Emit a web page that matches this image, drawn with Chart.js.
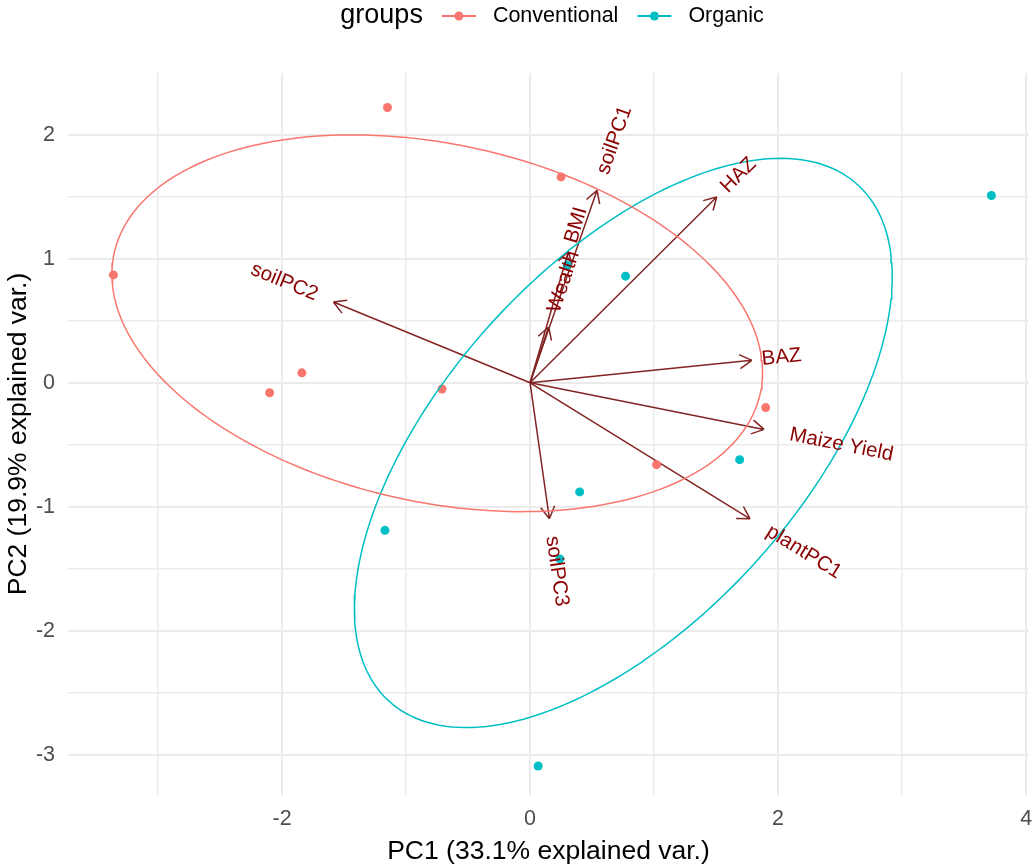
<!DOCTYPE html>
<html>
<head>
<meta charset="utf-8">
<script src="https://cdn.jsdelivr.net/npm/chart.js@4.4.1/dist/chart.umd.min.js"></script>
<style>
  html, body { margin: 0; padding: 0; background: #fff; }
  #wrap { width: 1036px; height: 868px; }
</style>
</head>
<body>
<div id="wrap"><canvas id="grafica1" width="1036" height="868"></canvas></div>
<script>
// groups
const groupNames = ['Conventional', 'Organic'];
const groupColors = ['#F8766D', '#00BFC4'];

// PCA scores per group
const convPC1 = [-1.15, 0.25, -3.36, -1.84, -2.10, -0.71, 1.90, 1.02];
const convPC2 = [2.22, 1.66, 0.87, 0.08, -0.08, -0.05, -0.20, -0.66];
const orgPC1 = [3.72, 0.30, 0.77, 1.69, 0.40, -1.17, 0.24, 0.065];
const orgPC2 = [1.51, 0.95, 0.86, -0.62, -0.88, -1.19, -1.42, -3.09];

// variable loadings (arrows)
const varNames = ['soilPC1', 'BMI', 'Wealth', 'HAZ', 'soilPC2', 'BAZ', 'Maize Yield', 'plantPC1', 'soilPC3'];
const varPC1 = [0.54, 0.31, 0.15, 1.505, -1.586, 1.788, 1.887, 1.774, 0.156];
const varPC2 = [1.552, 1.06, 0.45, 1.498, 0.651, 0.181, -0.376, -1.097, -1.097];

// ticks
const xTicks = [-3, -2, -1, 0, 1, 2, 3, 4];
const yTicks = [-3, -2.5, -2, -1.5, -1, -0.5, 0, 0.5, 1, 1.5, 2];

const FONT = '"Liberation Sans", Arial, sans-serif';
Chart.defaults.font.family = FONT;

function toPoints(xs, ys) {
    return xs.map((x, i) => ({ x: x, y: ys[i] }));
}

// normal data ellipse (68%), same as ggbiplot
function dataEllipse(xs, ys) {
    const n = xs.length;
    const mx = xs.reduce((a, b) => a + b, 0) / n;
    const my = ys.reduce((a, b) => a + b, 0) / n;
    let sxx = 0, syy = 0, sxy = 0;
    for (let i = 0; i < n; i++) {
        sxx += (xs[i] - mx) * (xs[i] - mx);
        syy += (ys[i] - my) * (ys[i] - my);
        sxy += (xs[i] - mx) * (ys[i] - my);
    }
    sxx /= n - 1; syy /= n - 1; sxy /= n - 1;
    const a = Math.sqrt(sxx), b = sxy / a, c = Math.sqrt(syy - b * b);
    const ed = Math.sqrt(-2 * Math.log(1 - 0.68));
    const pts = [];
    for (let i = 0; i <= 200; i++) {
        const t = -Math.PI + 2 * Math.PI * i / 200;
        pts.push({ x: mx + ed * a * Math.cos(t), y: my + ed * (b * Math.cos(t) + c * Math.sin(t)) });
    }
    return pts;
}

const biplotLayer = {
    id: 'biplotLayer',
    afterLayout(chart) {
        // coord_equal: same pixels per unit on x as on y
        const sx = chart.scales.x, sy = chart.scales.y;
        const pxPerUnit = (sy.bottom - sy.top) / (sy.max - sy.min);
        sx.max = sx.min + (sx.right - sx.left) / pxPerUnit;
        sx.configure();
    },
    beforeDatasetsDraw(chart) {
        const ctx = chart.ctx, xs = chart.scales.x, ys = chart.scales.y;
        const x0 = xs.getPixelForValue(0), y0 = ys.getPixelForValue(0);
        ctx.save();
        ctx.strokeStyle = '#832424';
        ctx.lineWidth = 1.5;
        varNames.forEach((name, i) => {
            const x1 = xs.getPixelForValue(varPC1[i]), y1 = ys.getPixelForValue(varPC2[i]);
            const ang = Math.atan2(y1 - y0, x1 - x0);
            ctx.beginPath();
            ctx.moveTo(x0, y0);
            ctx.lineTo(x1, y1);
            [-1, 1].forEach(s => {
                ctx.moveTo(x1, y1);
                ctx.lineTo(x1 - 14 * Math.cos(ang + s * Math.PI / 6), y1 - 14 * Math.sin(ang + s * Math.PI / 6));
            });
            ctx.stroke();
        });
        ctx.restore();
    },
    afterDatasetsDraw(chart) {
        const ctx = chart.ctx, xs = chart.scales.x, ys = chart.scales.y;
        ctx.save();
        ctx.font = '20.5px ' + FONT;
        ctx.fillStyle = '#8B0000';
        ctx.textBaseline = 'middle';
        ctx.textAlign = 'left';
        varNames.forEach((name, i) => {
            const x1 = xs.getPixelForValue(varPC1[i]), y1 = ys.getPixelForValue(varPC2[i]);
            const w = ctx.measureText(name).width;
            const h = (1 - 1.5 * Math.sign(varPC1[i])) / 2;
            ctx.save();
            ctx.translate(x1, y1);
            ctx.rotate(-Math.atan(varPC2[i] / varPC1[i]));
            ctx.fillText(name, -h * w, 0);
            ctx.restore();
        });
        ctx.restore();
    },
    afterDraw(chart) {
        // legend: groups  -o- Conventional  -o- Organic
        const ctx = chart.ctx, area = chart.chartArea;
        const y = 16, keyW = 34;
        ctx.save();
        ctx.textBaseline = 'middle';
        ctx.textAlign = 'left';
        ctx.font = '27px ' + FONT;
        const titleW = ctx.measureText('groups').width;
        ctx.font = '21.5px ' + FONT;
        const labW = groupNames.map(g => ctx.measureText(g).width);
        const total = titleW + 19 + keyW + 17 + labW[0] + 19 + keyW + 17 + labW[1];
        let x = 552 - total / 2;
        ctx.fillStyle = '#000';
        ctx.font = '27px ' + FONT;
        ctx.fillText('groups', x, y);
        x += titleW + 19;
        groupNames.forEach((g, i) => {
            ctx.strokeStyle = groupColors[i];
            ctx.lineWidth = 2;
            ctx.beginPath();
            ctx.moveTo(x, y);
            ctx.lineTo(x + keyW, y);
            ctx.stroke();
            ctx.fillStyle = groupColors[i];
            ctx.beginPath();
            ctx.arc(x + keyW / 2, y, 4.5, 0, Math.PI * 2);
            ctx.fill();
            x += keyW + 17;
            ctx.fillStyle = '#000';
            ctx.font = '21.5px ' + FONT;
            ctx.fillText(g, x, y);
            x += labW[i] + 19;
        });
        ctx.restore();
    }
};

const grafica1 = document.getElementById('grafica1').getContext('2d');
const grafica = new Chart(grafica1, {
    type: 'scatter',
    data: {
        datasets: [
            {
                label: groupNames[0],
                data: toPoints(convPC1, convPC2),
                backgroundColor: groupColors[0],
                pointRadius: 4.5,
                borderWidth: 0,
                order: 2
            },
            {
                label: groupNames[1],
                data: toPoints(orgPC1, orgPC2),
                backgroundColor: groupColors[1],
                pointRadius: 4.5,
                borderWidth: 0,
                order: 2
            },
            {
                label: groupNames[0] + ' ellipse',
                data: dataEllipse(convPC1, convPC2),
                showLine: true,
                fill: false,
                pointRadius: 0,
                borderColor: groupColors[0],
                borderWidth: 1.5,
                order: 1
            },
            {
                label: groupNames[1] + ' ellipse',
                data: dataEllipse(orgPC1, orgPC2),
                showLine: true,
                fill: false,
                pointRadius: 0,
                borderColor: groupColors[1],
                borderWidth: 1.5,
                order: 1
            }
        ]
    },
    options: {
        responsive: false,
        animation: false,
        layout: { padding: { top: 73, right: 0, bottom: 0, left: 0 } },
        plugins: {
            legend: { display: false },
            tooltip: { enabled: false }
        },
        scales: {
            x: {
                type: 'linear',
                min: -3.726,
                max: 4.081,
                afterBuildTicks: s => { s.ticks = xTicks.map(v => ({ value: v })); },
                afterFit: s => { s.height = 73; },
                grid: {
                    color: '#EBEBEB',
                    lineWidth: c => (c.tick && c.tick.value % 2 === 0) ? 2 : 1.5,
                    drawTicks: false
                },
                border: { display: false },
                ticks: {
                    callback: v => (v % 2 === 0 ? String(v) : ''),
                    color: '#4D4D4D',
                    font: { size: 21.5 },
                    padding: 11,
                    autoSkip: false,
                    maxRotation: 0
                },
                title: {
                    display: true,
                    text: 'PC1 (33.1% explained var.)',
                    color: '#000',
                    font: { size: 26.5 },
                    padding: { top: 0, bottom: 0 }
                }
            },
            y: {
                type: 'linear',
                min: -3.324,
                max: 2.498,
                afterBuildTicks: s => { s.ticks = yTicks.map(v => ({ value: v })); },
                afterFit: s => { s.width = 68; },
                grid: {
                    color: '#EBEBEB',
                    lineWidth: c => (c.tick && Number.isInteger(c.tick.value)) ? 2 : 1.5,
                    drawTicks: false
                },
                border: { display: false },
                ticks: {
                    callback: v => (Number.isInteger(v) ? String(v) : ''),
                    color: '#4D4D4D',
                    font: { size: 21.5 },
                    padding: 13,
                    autoSkip: false
                },
                title: {
                    display: true,
                    text: 'PC2 (19.9% explained var.)',
                    color: '#000',
                    font: { size: 26.5 },
                    padding: { top: 3, bottom: 0 }
                }
            }
        }
    },
    plugins: [biplotLayer]
});
</script>
</body>
</html>
